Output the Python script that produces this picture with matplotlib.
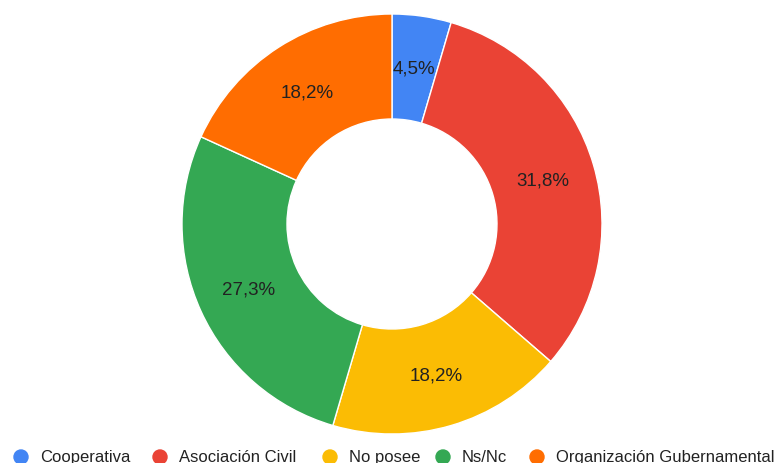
import matplotlib.pyplot as plt

categories = ["Cooperativa", "Asociación Civil", "No posee", "Ns/Nc", "Organización Gubernamental"]
counts = [1, 7, 4, 6, 4]
colors = ["#4285F4", "#EA4335", "#FBBC04", "#34A853", "#FF6D01"]

plt.rcParams['font.family'] = ['Liberation Sans', 'DejaVu Sans']

W, H = 774, 464
fig = plt.figure(figsize=(W / 100, H / 100), dpi=100)

# pie centred at (392, 225) px, radius 210 px
cx, cy, r = 392, 225, 210
ax = fig.add_axes([(cx - r) / W, (H - cy - r) / H, 2 * r / W, 2 * r / H])


def fmt(p):
    return f"{p:.1f}".replace(".", ",") + "%"


wedges, texts, autotexts = ax.pie(
    counts, colors=colors, startangle=90, counterclock=False,
    autopct=fmt, pctdistance=0.75, radius=1.0,
    wedgeprops=dict(width=0.5, edgecolor="white", linewidth=1),
    textprops=dict(fontsize=13.5, color="#222222"))
ax.set_xlim(-1, 1)
ax.set_ylim(-1, 1)
ax.set_aspect("equal")

# legend along the bottom, partly clipped like the original
leg = fig.add_axes([0, 0, 1, 1], facecolor="none")
leg.set_xlim(0, W)
leg.set_ylim(H, 0)
leg.axis("off")
lx = [21, 160, 330, 443, 537]
ly = 458
leg.scatter(lx, [ly] * len(lx), s=14 ** 2 * 0.52, c=colors, clip_on=False)
for x, name in zip(lx, categories):
    leg.text(x + 19, ly, name, color="#222222", fontsize=12,
             ha="left", va="center")

fig.savefig("out.png", dpi=100)
